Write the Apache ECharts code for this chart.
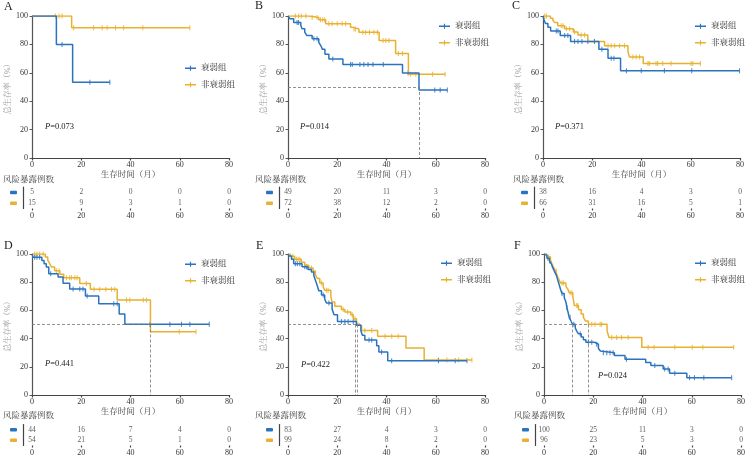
<!DOCTYPE html>
<html>
<head>
<meta charset="utf-8">
<script src="https://cdn.jsdelivr.net/npm/echarts@6/dist/echarts.min.js"></script>
<style>
  html, body { margin: 0; padding: 0; background: #fff; }
  #main { width: 748px; height: 456px; }
</style>
</head>
<body>
<div id="main"></div>
<script>
// colours and fonts
const blue = '#2a73be';
const orange = '#e8b12f';
const serif = '"Liberation Serif", "Noto Serif CJK SC", "Noto Sans CJK SC", serif';

const xTicks = [0, 20, 40, 60, 80];
const groupNames = ['衰弱组', '非衰弱组'];
const medianLevel = 50;

// A
const aFrailEvents = [[9.9, 80], [16.5, 53.3]];
const aFrailCensored = [12.2, 23.5, 31.6];
const aNonFrailEvents = [[16.1, 91.7]];
const aNonFrailCensored = [9.5, 11, 12.2, 16.9, 25, 28.5, 30.5, 33.9, 37.2, 45, 64.1];
const aRiskFrail = [5, 2, 0, 0, 0];
const aRiskNonFrail = [15, 9, 3, 1, 0];
const aMedians = [];

// B
const bFrailEvents = [[0.8, 98], [2.3, 95.5], [5.2, 93.3], [5.7, 91], [6.8, 88.6], [7.6, 86.3], [9.8, 84], [12.5, 81.5], [13.3, 79.2], [14, 76.5], [15, 73], [16.6, 69.7], [22.3, 65.9], [46.5, 59.8], [53.2, 47.8]];
const bFrailCensored = [3.7, 4.3, 10.5, 11.8, 18.2, 25.4, 26.1, 29.2, 30.8, 32.5, 34.5, 38.7, 48.8, 59.6, 61.8, 64.7];
const bNonFrailEvents = [[8.4, 99], [12.5, 97.3], [15.3, 94.5], [25.4, 92], [26.3, 90.8], [28.8, 88.5], [37, 82.8], [43.7, 73.6], [48.9, 59]];
const bNonFrailCensored = [3, 4.3, 5.4, 7.3, 9.8, 11.8, 13.2, 14.1, 14.9, 16.6, 17.9, 20, 22, 23.4, 26.8, 27.4, 30.4, 31.5, 33.1, 34.9, 36.3, 38.6, 39.7, 41, 44.8, 46.5, 49.8, 51.9, 58.7, 63.8];
const bRiskFrail = [49, 20, 11, 3, 0];
const bRiskNonFrail = [72, 38, 12, 2, 0];
const bMedians = [53.2];

// C
const cFrailEvents = [[0.4, 97.4], [1, 94.7], [2, 92.1], [3.1, 89.5], [7, 86.3], [11.2, 82.1], [22.7, 76.6], [26.4, 70.2], [31.5, 61.4]];
const cFrailCensored = [5.4, 6.1, 8.8, 10.1, 12.8, 14.2, 15.8, 18.2, 20.9, 23.9, 27.7, 28.8, 33.9, 39.9, 49.3, 60.4, 79.8];
const cNonFrailEvents = [[3, 98.5], [4, 97], [4.7, 95.5], [6, 93.2], [8.8, 91], [12.3, 88.8], [14.2, 86.6], [18.2, 82], [25, 79], [34.5, 75], [35.1, 71.2], [40.7, 66.6]];
const cNonFrailCensored = [0.7, 1.4, 7.4, 8.1, 9.5, 10.8, 12.8, 15.5, 16.9, 20.9, 26.4, 27.7, 29.1, 31.1, 33.1, 36.5, 37.8, 39.2, 42.6, 43.2, 45.9, 46.6, 48.6, 52, 60.1, 60.8, 63.9];
const cRiskFrail = [38, 16, 4, 3, 0];
const cRiskNonFrail = [66, 31, 16, 5, 1];
const cMedians = [];

// D
const dFrailEvents = [[0.4, 97.7], [4, 95.4], [4.9, 93], [5.8, 90.7], [6.8, 86], [10.6, 83.6], [12.6, 79.2], [15.3, 75.1], [21.7, 70.2], [27.1, 64.8], [35.4, 57.4], [37.7, 50.2]];
const dFrailCensored = [1.1, 2, 3.1, 7.6, 16.7, 19.4, 20.7, 22.4, 33.2, 34.6, 47.9, 56, 60.7, 64.1, 72];
const dNonFrailEvents = [[5.4, 97.8], [6.4, 95.6], [7.2, 93.1], [7.9, 90.7], [9.2, 88.2], [11.3, 85.6], [12.9, 83.1], [19.4, 79], [23.7, 75], [34.6, 67.3], [48.1, 44.9]];
const dNonFrailCensored = [1.1, 2, 3.1, 4.5, 9.9, 11, 14, 15.3, 16, 17.4, 18.3, 22.1, 25.2, 27.5, 30, 32.3, 33.6, 38.4, 39.7, 45.2, 46.5, 59.8, 66.6];
const dRiskFrail = [44, 16, 7, 4, 0];
const dRiskNonFrail = [54, 21, 5, 1, 0];
const dMedians = [48.1];

// E
const eFrailEvents = [[0.4, 98.5], [1.4, 96.2], [2.3, 93], [5.7, 90.9], [8.1, 89], [9.5, 87.2], [10.5, 84.5], [11.1, 81.5], [11.8, 78], [12.5, 74], [13.6, 71], [14.9, 68], [15.6, 65.2], [17.9, 61], [18.7, 57], [20.1, 52.2], [27.8, 49.4], [29.6, 45.5], [30.2, 42.3], [31.2, 39], [36, 35], [36.9, 30.5], [40.5, 24.3]];
const eFrailCensored = [3, 3.8, 4.8, 6.8, 7.5, 14.3, 16.6, 21.7, 23.1, 24.4, 26.5, 32.9, 34, 38, 42.1, 61.1, 67.9, 72.7];
const eNonFrailEvents = [[0.9, 98.4], [2.7, 96.3], [5.4, 94.2], [6.8, 92], [8.4, 90], [10.2, 87.9], [11.1, 85.3], [11.9, 82.7], [12.9, 79.4], [14.3, 76.5], [14.9, 74.3], [17.4, 70], [17.9, 66], [19, 62.9], [21.7, 60.7], [23.1, 58.9], [25.5, 57], [26.5, 54], [27.8, 50.4], [28.8, 49], [29.9, 45.8], [36.4, 41.6], [47.9, 33.3], [55.3, 24.9]];
const eNonFrailCensored = [2, 3.4, 4.1, 4.8, 9.5, 13.6, 15.6, 16.3, 22.4, 24.2, 26.1, 27.2, 31.2, 34, 39.4, 42.1, 44.8, 61.1, 64.5, 69.3, 74.7];
const eRiskFrail = [83, 27, 4, 3, 0];
const eRiskNonFrail = [99, 24, 8, 2, 0];
const eMedians = [27.5, 28.1];

// F
const fFrailEvents = [[0.5, 99], [1.2, 97], [2.2, 95], [3, 93], [3.5, 90.5], [4.3, 87.5], [5, 85], [5.5, 82], [6.2, 78], [6.7, 75], [7.3, 72], [8.2, 69.2], [8.9, 66], [9.3, 62], [9.8, 58.5], [10.2, 55.2], [11, 52.3], [11.6, 50.2], [12.7, 47.5], [13.3, 45.3], [14, 43.4], [15.1, 41.2], [16, 39.2], [17, 37.4], [20.5, 36], [22.1, 33], [22.9, 31.2], [23.4, 29.9], [28.6, 28], [32.9, 25.3], [41.3, 23.1], [43.4, 20.9], [48.4, 18.5], [51, 15.4], [58, 12.3]];
const fFrailCensored = [1.6, 2.3, 7.3, 9.3, 10.6, 12.1, 14.7, 18, 19.4, 21.4, 24.1, 25.5, 26.8, 28.1, 33.5, 45, 49, 50.4, 53.1, 59.1, 61.1, 64.9, 76.2];
const fNonFrailEvents = [[1.2, 98], [2.6, 96], [3.2, 93], [3.9, 90.5], [4.6, 88], [5.3, 85], [5.9, 82.5], [6.7, 79.4], [8.9, 77], [9.7, 75], [10.2, 72.5], [11.7, 70], [12, 67], [12.3, 63.5], [14, 60.4], [15.1, 57.5], [16, 55], [16.8, 52.5], [18, 50.2], [25.6, 45.5], [26.4, 40.8], [39.7, 33.8]];
const fNonFrailCensored = [1.9, 2.6, 5, 7.3, 7.9, 10.6, 11.3, 13.3, 13.7, 19.4, 20.7, 22.8, 23.4, 27.5, 29.5, 31.5, 34.2, 42.3, 44.7, 53.1, 60.2, 64.5, 77];
const fRiskFrail = [100, 25, 11, 3, 0];
const fRiskNonFrail = [96, 23, 5, 3, 0];
const fMedians = [11.6, 18];

const pValues = ['0.073', '0.014', '0.371', '0.441', '0.422', '0.024'];
const letters = ['A', 'B', 'C', 'D', 'E', 'F'];

const panels = [
  { frail: aFrailEvents, frailCens: aFrailCensored, non: aNonFrailEvents, nonCens: aNonFrailCensored, riskF: aRiskFrail, riskN: aRiskNonFrail, medians: aMedians },
  { frail: bFrailEvents, frailCens: bFrailCensored, non: bNonFrailEvents, nonCens: bNonFrailCensored, riskF: bRiskFrail, riskN: bRiskNonFrail, medians: bMedians },
  { frail: cFrailEvents, frailCens: cFrailCensored, non: cNonFrailEvents, nonCens: cNonFrailCensored, riskF: cRiskFrail, riskN: cRiskNonFrail, medians: cMedians },
  { frail: dFrailEvents, frailCens: dFrailCensored, non: dNonFrailEvents, nonCens: dNonFrailCensored, riskF: dRiskFrail, riskN: dRiskNonFrail, medians: dMedians },
  { frail: eFrailEvents, frailCens: eFrailCensored, non: eNonFrailEvents, nonCens: eNonFrailCensored, riskF: eRiskFrail, riskN: eRiskNonFrail, medians: eMedians },
  { frail: fFrailEvents, frailCens: fFrailCensored, non: fNonFrailEvents, nonCens: fNonFrailCensored, riskF: fRiskFrail, riskN: fRiskNonFrail, medians: fMedians }
];

// pixel layout of each panel
const W = 197;
const layout = [
  { x: 32, y: 16, h: 142, ty: 187, th: 21.5, lx: 180, ly: 59, px: 45, py: 128, hx: 3, hy: 181, cx: 4, cy: 8 },
  { x: 288, y: 16, h: 142, ty: 187, th: 21.5, lx: 434, ly: 17, px: 300, py: 128, hx: 255, hy: 181, cx: 255, cy: 7 },
  { x: 543, y: 16, h: 142, ty: 187, th: 21.5, lx: 690, ly: 17, px: 555, py: 128, hx: 513, hy: 181, cx: 512, cy: 7 },
  { x: 32, y: 254, h: 141, ty: 424.5, th: 21, lx: 180, ly: 255, px: 45, py: 365, hx: 3, hy: 417, cx: 4, cy: 247 },
  { x: 288, y: 254, h: 141, ty: 424.5, th: 21, lx: 436, ly: 254, px: 301, py: 366, hx: 255, hy: 417, cx: 256, cy: 247 },
  { x: 544, y: 254, h: 141, ty: 424.5, th: 21, lx: 690, ly: 254, px: 598, py: 377, hx: 514, hy: 417, cx: 514, cy: 247 }
];

function survivalAt(events, t) {
  let s = 100;
  events.forEach(function (e) { if (e[0] <= t) s = e[1]; });
  return s;
}
function stepData(events, censored) {
  const d = [[0, 100]].concat(events);
  const lastEvent = events.length ? events[events.length - 1][0] : 0;
  const last = Math.max.apply(null, censored.concat([lastEvent]));
  if (last > lastEvent) d.push([last, survivalAt(events, last)]);
  return d;
}
function censorData(events, censored) {
  return censored.map(function (t) { return [t, survivalAt(events, t)]; });
}
function medianLines(medians) {
  if (!medians.length) return [];
  const far = Math.max.apply(null, medians);
  const out = [[{ coord: [0, medianLevel] }, { coord: [far, medianLevel] }]];
  medians.forEach(function (m) {
    out.push([{ coord: [m, medianLevel] }, { coord: [m, 0] }]);
  });
  return out;
}

const axisLine = { onZero: false, lineStyle: { color: '#444', width: 1.2 } };
const legendIcon = 'path://M0,4L20,4L20,6.5L0,6.5ZM9,0.5L11,0.5L11,10L9,10Z';

const grids = [], xAxes = [], yAxes = [], series = [], legends = [], graphics = [];

panels.forEach(function (p, i) {
  const L = layout[i];
  const ppm = W / 80;
  const gi = i * 2;

  grids.push({ left: L.x, top: L.y, width: W, height: L.h, outerBoundsMode: 'none' });
  grids.push({ left: L.x - 9, top: L.ty, width: W + 9, height: L.th, outerBoundsMode: 'none' });

  xAxes.push({
    gridIndex: gi, type: 'value', min: 0, max: 80, interval: 20,
    axisLine: axisLine, axisTick: { length: 2.5, lineStyle: axisLine.lineStyle },
    axisLabel: { fontSize: 8, margin: 3, color: '#333', fontFamily: serif },
    splitLine: { show: false },
    name: '生存时间（月）', nameLocation: 'middle', nameGap: 13,
    nameTextStyle: { fontSize: 8.5, color: '#444', fontFamily: serif }
  });
  yAxes.push({
    gridIndex: gi, type: 'value', min: 0, max: 100, interval: 20,
    axisLine: { show: true, onZero: false, lineStyle: { color: '#555', width: 1.2 } },
    axisTick: { show: true, length: 2.5, lineStyle: { color: '#555' } },
    axisLabel: { fontSize: 8, margin: 4, color: '#333', fontFamily: serif },
    splitLine: { show: false },
    name: '总生存率（%）', nameLocation: 'middle', nameGap: 9, nameRotate: 90,
    nameTextStyle: { fontSize: 8, color: '#999', fontFamily: serif }
  });

  xAxes.push({
    gridIndex: gi + 1, type: 'value', min: -9 / ppm, max: 80,
    axisLine: axisLine,
    axisTick: { show: true, length: 2, customValues: xTicks, lineStyle: axisLine.lineStyle },
    axisLabel: { fontSize: 8, margin: 3, color: '#333', fontFamily: serif, customValues: xTicks },
    splitLine: { show: false }
  });
  yAxes.push({
    gridIndex: gi + 1, type: 'category', data: groupNames, inverse: true,
    axisLine: axisLine, axisTick: { show: false },
    axisLabel: {
      margin: 6, interval: 0,
      formatter: function (v, idx) { return idx === 0 ? '{a|}' : '{b|}'; },
      rich: {
        a: { backgroundColor: blue, width: 7, height: 3.5, borderRadius: 1 },
        b: { backgroundColor: orange, width: 7, height: 3.5, borderRadius: 1 }
      }
    }
  });

  const lineBase = { type: 'line', step: 'end', symbol: 'none', xAxisIndex: gi, yAxisIndex: gi, lineStyle: { width: 1.5 } };
  series.push(Object.assign({}, lineBase, {
    name: groupNames[1], color: orange, data: stepData(p.non, p.nonCens),
    markLine: {
      silent: true, symbol: ['none', 'none'], label: { show: false },
      lineStyle: { color: '#777', width: 0.8, type: [3, 2] },
      data: medianLines(p.medians)
    }
  }));
  series.push(Object.assign({}, lineBase, { name: groupNames[0], color: blue, data: stepData(p.frail, p.frailCens) }));
  series.push({ type: 'scatter', name: groupNames[1], color: orange, xAxisIndex: gi, yAxisIndex: gi, symbol: 'rect', symbolSize: [1.1, 5], data: censorData(p.non, p.nonCens) });
  series.push({ type: 'scatter', name: groupNames[0], color: blue, xAxisIndex: gi, yAxisIndex: gi, symbol: 'rect', symbolSize: [1.1, 5], data: censorData(p.frail, p.frailCens) });

  [p.riskF, p.riskN].forEach(function (counts, r) {
    series.push({
      type: 'scatter', xAxisIndex: gi + 1, yAxisIndex: gi + 1, symbolSize: 1,
      itemStyle: { color: 'rgba(0,0,0,0)' },
      label: { show: true, position: 'inside', fontSize: 7.5, color: '#333', fontFamily: serif, formatter: function (q) { return q.value[2]; } },
      data: xTicks.map(function (t, k) { return [t, r, counts[k]]; })
    });
  });

  legends.push({
    orient: 'vertical', left: L.lx, top: L.ly, itemWidth: 11, itemHeight: 6, itemGap: 8,
    textStyle: { fontSize: 8.5, color: '#333', fontFamily: serif },
    data: [{ name: groupNames[0], icon: legendIcon }, { name: groupNames[1], icon: legendIcon }]
  });

  graphics.push({ type: 'text', left: L.cx, top: L.cy - 7, style: { text: letters[i], font: '12px ' + serif, fill: '#222' } });
  graphics.push({ type: 'text', left: L.hx, top: L.hy - 5.5, style: { text: '风险暴露例数', font: '8.5px ' + serif, fill: '#444' } });
  graphics.push({
    type: 'text', left: L.px, top: L.py - 5,
    style: { text: '{i|P}=' + pValues[i], font: '8.5px ' + serif, fill: '#222', rich: { i: { fontStyle: 'italic', fontSize: 8.5, fontFamily: serif } } }
  });
});

const chart = echarts.init(document.getElementById('main'));
chart.setOption({
  animation: false,
  backgroundColor: '#fff',
  textStyle: { fontFamily: serif },
  grid: grids,
  xAxis: xAxes,
  yAxis: yAxes,
  legend: legends,
  graphic: graphics,
  series: series
});
</script>
</body>
</html>
